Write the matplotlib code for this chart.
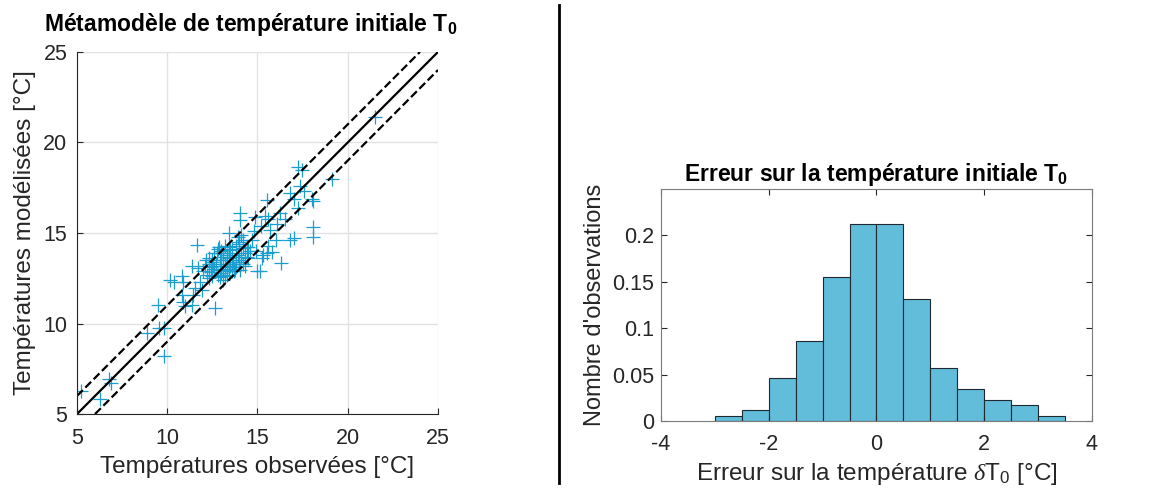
import matplotlib
matplotlib.use("Agg")
import matplotlib.pyplot as plt

plt.rcParams['font.family'] = ['Liberation Sans', 'DejaVu Sans']
plt.rcParams['mathtext.fontset'] = 'custom'
plt.rcParams['mathtext.rm'] = 'Liberation Sans'
plt.rcParams['mathtext.it'] = 'Liberation Serif:italic'
plt.rcParams['mathtext.bf'] = 'Liberation Sans:bold'
plt.rcParams['axes.unicode_minus'] = False

obs = [5.2, 6.3, 6.8, 6.9, 8.9, 9.5, 9.55, 9.8, 9.8, 10.15, 10.4, 10.8, 10.85,
       10.8, 10.85, 11.0, 11.35, 11.45, 11.55, 11.35, 11.67, 11.8, 11.9, 11.7,
       12.15, 12.3, 12.4, 12.55, 12.75, 12.85, 12.65, 12.9, 13.0, 13.1, 13.3,
       13.5, 13.4, 13.65, 13.75, 13.95, 14.05, 14.05, 14.2, 14.4, 14.3, 14.05,
       14.7, 14.8, 14.85, 15.0, 15.15, 15.25, 15.5, 15.4, 15.6, 15.5, 15.8,
       15.7, 16.05, 16.25, 16.3, 16.5, 16.8, 17.0, 16.8, 17.0, 17.25, 17.45,
       17.35, 17.6, 17.25, 18.0, 18.1, 18.1, 18.1, 19.1, 21.5,
       # dense cluster
       12.0, 12.1, 12.2, 12.3, 12.4, 12.5, 12.5, 12.6, 12.7, 12.8, 12.9, 12.9,
       13.0, 13.0, 13.1, 13.1, 13.2, 13.2, 13.3, 13.3, 13.4, 13.4, 13.5, 13.5,
       13.6, 13.6, 13.7, 13.8, 13.8, 13.9, 14.0, 14.0, 14.1, 14.2, 14.3, 14.4,
       14.5, 14.6, 12.6, 12.8, 13.0, 13.2, 13.4, 13.6, 13.8, 14.0, 14.2, 12.3,
       12.5, 13.1, 13.3, 13.7, 13.9, 14.1, 14.5, 14.9, 15.2, 15.3, 15.6, 16.1]
mod = [6.25, 5.85, 6.95, 6.7, 9.5, 11.05, 9.75, 9.75, 8.2, 12.4, 12.3, 12.6, 12.3,
       11.6, 11.2, 10.95, 11.05, 11.6, 11.95, 13.15, 14.35, 12.3, 11.85, 13.05,
       13.5, 13.3, 12.85, 13.15, 13.9, 14.25, 10.85, 12.55, 12.95, 13.5, 13.8,
       14.05, 15.0, 13.3, 12.95, 13.5, 16.1, 15.7, 14.15, 13.7, 13.15, 12.95,
       14.6, 15.1, 15.9, 12.9, 12.9, 13.6, 16.8, 15.95, 15.8, 13.9, 13.95,
       15.15, 14.6, 16.1, 13.35, 15.8, 14.6, 14.7, 17.2, 16.9, 18.65, 18.5,
       17.6, 17.3, 16.4, 16.9, 16.75, 15.35, 14.8, 18.0, 21.4,
       # dense cluster
       12.9, 13.2, 12.7, 13.6, 13.1, 12.6, 13.4, 13.0, 13.3, 12.7, 13.2, 13.7,
       12.8, 13.5, 13.0, 13.9, 13.3, 12.6, 13.7, 13.1, 12.9, 13.6, 13.2, 13.9,
       13.4, 14.1, 13.0, 13.5, 14.3, 13.8, 13.4, 14.4, 13.7, 13.3, 13.9, 14.2,
       13.6, 14.0, 13.9, 14.1, 14.0, 14.3, 14.2, 12.9, 13.1, 14.5, 14.6, 12.5,
       13.5, 12.4, 12.7, 12.9, 14.8, 14.9, 14.2, 14.0, 15.4, 13.8, 14.3, 15.5]

# error histogram (relative frequency per 0.5 degree bin)
bin_edges = [-3.0, -2.5, -2.0, -1.5, -1.0, -0.5, 0.0, 0.5, 1.0, 1.5, 2.0, 2.5, 3.0, 3.5]
freq = [0.0057, 0.0115, 0.046, 0.086, 0.155, 0.2126, 0.2126, 0.132, 0.0575,
        0.0345, 0.023, 0.0172, 0.0057]

txt = '#262626'
fig = plt.figure(figsize=(11.56, 4.9), dpi=100)

# left: scatter
ax1 = fig.add_axes([0.0666, 0.155, 0.3123, 0.739])
ax1.plot(obs, mod, '+', color='#1a9dcf', markersize=10, markeredgewidth=0.9)
ax1.plot([5, 25], [5, 25], '-', color='black', lw=1.6)
ax1.plot([5, 24], [6, 25], '--', color='black', lw=1.6)
ax1.plot([6, 25], [5, 24], '--', color='black', lw=1.6)
ax1.set_xlim(5, 25)
ax1.set_ylim(5, 25)
ax1.set_xticks([5, 10, 15, 20, 25])
ax1.set_yticks([5, 10, 15, 20, 25])
ax1.grid(True, color='#e2e2e2', lw=1)
ax1.set_axisbelow(True)
for s in ['top', 'right']:
    ax1.spines[s].set_visible(False)
for s in ['left', 'bottom']:
    ax1.spines[s].set_color(txt)
ax1.tick_params(direction='in', length=4, labelsize=15.5, colors=txt)
ax1.tick_params(axis='x', pad=10)
ax1.tick_params(axis='y', pad=7)
ax1.set_xlabel('Températures observées [°C]', fontsize=17.5, color=txt, labelpad=5)
ax1.set_ylabel('Températures modélisées [°C]', fontsize=17.5, color=txt, labelpad=5)
ax1.set_title(r'Métamodèle de température initiale T$_\mathbf{0}$', fontsize=16.5,
              fontweight='bold', pad=15, x=0.48)

# separator
fig.add_artist(plt.Line2D([0.4836, 0.4836], [0.014, 0.99], color='black', lw=2))

# right: histogram
ax2 = fig.add_axes([0.5718, 0.1408, 0.3728, 0.4735])
ax2.bar(bin_edges[:-1], freq, width=0.5, align='edge', color='#62bdda',
        edgecolor='#1f2a30', linewidth=0.8)
ax2.set_xlim(-4, 4)
ax2.set_ylim(0, 0.25)
ax2.set_xticks([-4, -2, 0, 2, 4])
ax2.set_yticks([0, 0.05, 0.1, 0.15, 0.2])
ax2.set_yticklabels(['0', '0.05', '0.1', '0.15', '0.2'])
for s in ax2.spines.values():
    s.set_color('#7a7a7a')
ax2.tick_params(direction='in', length=4, labelsize=15.5, colors=txt,
                top=True, right=True, pad=5)
ax2.tick_params(axis='x', pad=9)
ax2.set_xlabel(r'Erreur sur la température $\mathit{\delta}$T$_0$ [°C]', fontsize=17.5,
               color=txt, labelpad=5)
ax2.set_ylabel("Nombre d'observations", fontsize=17, color=txt, labelpad=4)
ax2.set_title(r'Erreur sur la température initiale T$_\mathbf{0}$', fontsize=16.5,
              fontweight='bold', pad=6)

fig.savefig('out.png', dpi=100)
